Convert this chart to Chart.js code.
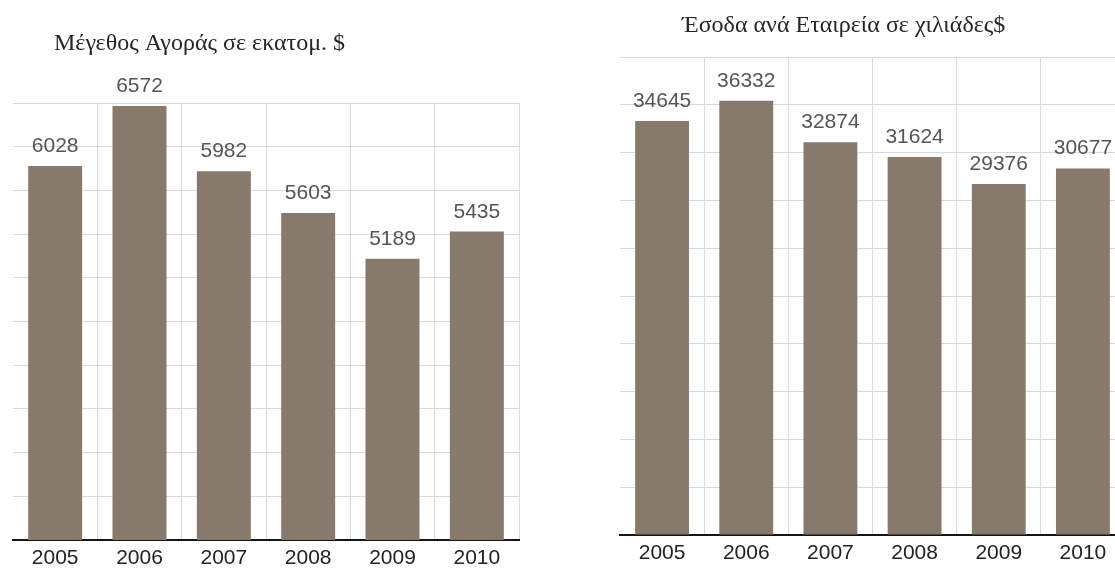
<!DOCTYPE html>
<html>
<head>
<meta charset="utf-8">
<script src="https://cdn.jsdelivr.net/npm/chart.js@4.4.1/dist/chart.umd.min.js"></script>
<style>
  html, body { margin: 0; padding: 0; background: #ffffff; overflow: hidden; }
  body { width: 1115px; height: 568px; position: relative; }
  .panel { position: absolute; top: 0; }
  #marketPanel { left: 0; width: 540px; height: 568px; }
  #revenuePanel { left: 560px; width: 600px; height: 568px; }
</style>
</head>
<body>
<div class="panel" id="marketPanel"><canvas id="marketChart" width="540" height="568"></canvas></div>
<div class="panel" id="revenuePanel"><canvas id="revenueChart" width="600" height="568"></canvas></div>
<script>
// Years shown on both charts
const years = ['2005', '2006', '2007', '2008', '2009', '2010'];

// Market size, millions of $
const marketSize = [6028, 6572, 5982, 5603, 5189, 5435];

// Revenue per company, thousands of $
const revenuePerCompany = [34645, 36332, 32874, 31624, 29376, 30677];

const marketTitle = 'Μέγεθος Αγοράς σε εκατομ. $';
const revenueTitle = 'Έσοδα ανά Εταιρεία σε χιλιάδες$';

const BAR_COLOR = '#87796c';
const GRID_COLOR = '#d6d9df';

// Writes each bar's value just above it
const valueLabels = {
  id: 'valueLabels',
  afterDatasetsDraw(chart) {
    const { ctx } = chart;
    const meta = chart.getDatasetMeta(0);
    const values = chart.data.datasets[0].data;
    ctx.save();
    ctx.font = '21px "Liberation Sans", Arial, sans-serif';
    ctx.fillStyle = '#555555';
    ctx.textAlign = 'center';
    ctx.textBaseline = 'alphabetic';
    meta.data.forEach((bar, i) => {
      ctx.fillText(String(values[i]), bar.x, bar.y - 14);
    });
    ctx.restore();
  }
};

// Serif heading placed relative to the plot area
const heading = {
  id: 'heading',
  afterDraw(chart, args, opts) {
    const { ctx, chartArea } = chart;
    ctx.save();
    ctx.font = '24px "Liberation Serif", "Times New Roman", serif';
    ctx.fillStyle = '#262626';
    ctx.textAlign = 'left';
    ctx.textBaseline = 'middle';
    ctx.fillText(opts.text, chartArea.left + opts.dx, opts.y);
    ctx.restore();
  }
};

function buildChart(canvasId, values, title, yMin, yMax, step, pad, xHeight, headingPos) {
  return new Chart(document.getElementById(canvasId), {
    type: 'bar',
    data: {
      labels: years,
      datasets: [{
        data: values,
        backgroundColor: BAR_COLOR,
        borderWidth: 0,
        categoryPercentage: 1.0,
        barPercentage: 0.64
      }]
    },
    options: {
      responsive: false,
      animation: false,
      events: [],
      layout: { padding: pad },
      plugins: {
        legend: { display: false },
        tooltip: { enabled: false },
        title: { display: false },
        heading: { text: title, dx: headingPos.dx, y: headingPos.y }
      },
      scales: {
        x: {
          grid: {
            color: (c) => (c.index === 0 ? 'rgba(0,0,0,0)' : GRID_COLOR),
            lineWidth: 1,
            drawTicks: false
          },
          border: { display: true, color: '#151515', width: 2 },
          ticks: {
            color: '#222222',
            font: { family: '"Liberation Sans", Arial, sans-serif', size: 21 },
            padding: 6
          },
          afterFit(scale) { scale.height = xHeight; }
        },
        y: {
          min: yMin,
          max: yMax,
          ticks: { display: false, stepSize: step },
          grid: { color: GRID_COLOR, lineWidth: 1, drawTicks: false },
          border: { display: false },
          afterFit(scale) { scale.width = 0; }
        }
      }
    },
    plugins: [valueLabels, heading]
  });
}

buildChart('marketChart', marketSize, marketTitle, 2640, 6600, 396,
  { left: 13, top: 103, right: 21, bottom: 0 }, 28, { dx: 41, y: 44 });

buildChart('revenueChart', revenuePerCompany, revenueTitle, 0, 40000, 4000,
  { left: 60, top: 57, right: 35, bottom: 0 }, 33, { dx: 62, y: 26 });
</script>
</body>
</html>
